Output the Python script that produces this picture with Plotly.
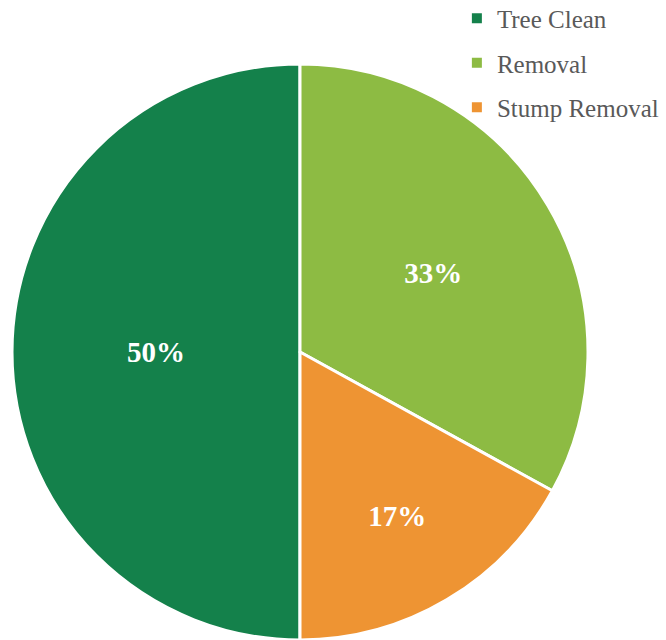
import plotly.graph_objects as go

categories = ["Tree Clean", "Removal", "Stump Removal"]
values = [50, 33, 17]
colors = ["#14814B", "#8DBB43", "#EE9433"]

FONT = "Palatino Linotype, Book Antiqua, Palatino, Liberation Serif, serif"

fig = go.Figure()
fig.add_trace(go.Pie(
    labels=categories,
    values=values,
    sort=False,
    direction="clockwise",
    rotation=180,
    marker=dict(colors=colors, line=dict(color="white", width=3)),
    texttemplate="<b>%{percent:.0%}</b>",
    textposition="inside",
    insidetextorientation="horizontal",
    textfont=dict(family=FONT, size=29, color="white"),
    showlegend=False,
    hoverinfo="label+percent",
    domain=dict(x=[8 / 666, 592 / 666], y=[0, 576 / 640]),
))

for name, col in zip(categories, colors):
    fig.add_trace(go.Scatter(
        x=[None], y=[None], mode="markers", name=name, legendgroup=name,
        marker=dict(symbol="square", size=10, color=col),
        hoverinfo="skip",
    ))

fig.update_layout(
    width=666, height=640,
    margin=dict(l=0, r=0, t=0, b=0, autoexpand=False),
    paper_bgcolor="white", plot_bgcolor="white",
    xaxis=dict(visible=False), yaxis=dict(visible=False),
    legend=dict(
        x=0.686, y=1.007, xanchor="left", yanchor="top",
        font=dict(family=FONT, size=25, color="#595959"),
        tracegroupgap=9, bgcolor="rgba(0,0,0,0)",
        itemsizing="trace", itemwidth=30,
    ),
)

fig.write_html("out.html")
